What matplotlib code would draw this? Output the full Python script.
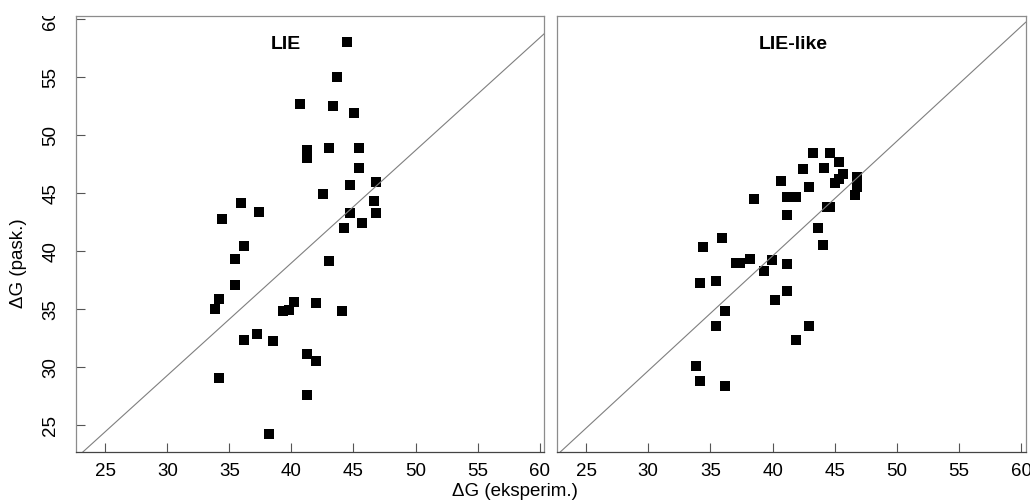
import matplotlib
matplotlib.use("Agg")
import matplotlib.pyplot as plt
from matplotlib.transforms import Bbox, TransformedBbox

plt.rcParams['font.family'] = ['Liberation Sans', 'DejaVu Sans']

# LIE panel: experimental vs calculated dG
lie_exp = [44.5, 43.66, 40.65, 43.34, 45.03, 41.22, 41.22, 42.99, 45.41, 45.41,
           46.81, 44.71, 42.51, 35.95, 37.37, 34.44, 46.62, 44.71, 46.81, 45.7,
           44.23, 36.19, 35.46, 42.99, 35.46, 34.2, 33.85, 40.19, 39.84, 39.31,
           41.94, 44.09, 36.19, 37.21, 38.5, 41.22, 41.94, 34.2, 41.22, 38.2]
lie_calc = [58.07, 55.06, 52.7, 52.53, 51.95, 48.73, 48.02, 48.91, 48.88, 47.21,
            46.0, 45.72, 44.94, 44.19, 43.36, 42.76, 44.37, 43.27, 43.27, 42.44,
            42.01, 40.43, 39.31, 39.14, 37.07, 35.86, 35.06, 35.66, 34.94, 34.88,
            35.52, 34.82, 32.35, 32.9, 32.3, 31.15, 30.54, 29.08, 27.61, 24.25]

# LIE-like panel
like_exp = [43.28, 44.65, 45.35, 42.45, 44.17, 45.65, 46.75, 45.35, 45.0, 46.75,
            46.62, 40.65, 42.93, 38.47, 41.19, 41.88, 44.41, 44.65, 41.19, 43.63,
            44.04, 35.92, 34.41, 37.05, 37.35, 38.17, 39.92, 39.28, 41.19, 34.17,
            35.46, 41.19, 40.19, 36.19, 35.46, 42.96, 41.88, 33.87, 34.17, 36.19]
like_calc = [48.44, 48.5, 47.73, 47.07, 47.15, 46.66, 46.43, 46.23, 45.92, 45.57,
             44.85, 46.06, 45.54, 44.51, 44.65, 44.71, 43.79, 43.79, 43.13, 42.01,
             40.54, 41.15, 40.37, 39.0, 39.0, 39.36, 39.28, 38.27, 38.88, 37.3,
             37.47, 36.58, 35.8, 34.88, 33.56, 33.56, 32.35, 30.11, 28.79, 28.36]

panel_titles = ['LIE', 'LIE-like']
title_x = [0.449, 0.504]
line_slope = [0.97, 0.99]
line_icpt = [0.2, 0.0]
tick_vals = [25, 30, 35, 40, 45, 50, 55, 60]
xlims = (22.64, 60.35)
ylims = (22.67, 60.31)

W, H = 1030, 503
fig = plt.figure(figsize=(W / 100, H / 100), dpi=100)
ax1 = fig.add_axes([76 / W, 1 - 452.3 / H, 468 / W, 436.6 / H])
ax2 = fig.add_axes([556.7 / W, 1 - 452.3 / H, 469 / W, 436.6 / H])

panels = [(ax1, lie_exp, lie_calc), (ax2, like_exp, like_calc)]
for i, (ax, xs, ys) in enumerate(panels):
    ax.plot(xs, ys, linestyle='none', marker='s', ms=6.8, mew=0, color='black')
    ax.axline((0, line_icpt[i]), slope=line_slope[i], color='#7f7f7f', lw=0.8)
    ax.set_xlim(*xlims)
    ax.set_ylim(*ylims)
    ax.set_xticks(tick_vals)
    ax.text(title_x[i], 0.934, panel_titles[i], transform=ax.transAxes,
            ha='center', va='center', fontsize=14, fontweight='bold')
    for side in ['top', 'right', 'left']:
        ax.spines[side].set_color('#8c8c8c')
    ax.spines['bottom'].set_color('#444444')
    for s in ax.spines.values():
        s.set_linewidth(0.9)
    ax.tick_params(axis='x', direction='in', length=6.5, width=0.8,
                   color='#555555', labelsize=13.5, pad=7.5)

ax1.set_yticks(tick_vals)
ax1.tick_params(axis='y', direction='in', length=6.5, width=0.8,
                color='#555555', labelsize=13.5, pad=12, labelrotation=90)
for lbl in ax1.get_yticklabels():
    lbl.set_va('center')
ax2.set_yticks([])

# top label is cut at the frame edge in the original
top_tick = ax1.yaxis.get_major_ticks()[tick_vals.index(60)]
clip = TransformedBbox(Bbox([[0, 0], [1, 1 - 15.7 / H]]), fig.transFigure)
top_tick.label1.set_clip_on(True)
top_tick.label1.set_clip_box(clip)

fig.text(19 / W, 1 - 263 / H, 'ΔG (pask.)', rotation=90, ha='center',
         va='center', fontsize=13.5)
fig.text(515 / W, 1 - 492 / H, 'ΔG (eksperim.)', ha='center', va='center',
         fontsize=13.5)

fig.savefig('out.png', dpi=100)
